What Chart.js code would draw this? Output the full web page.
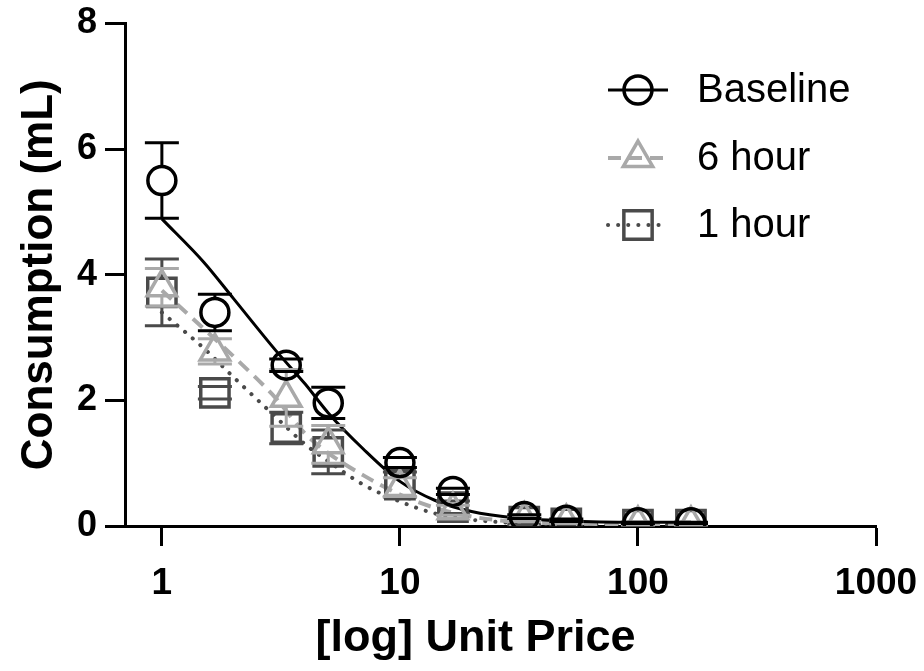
<!DOCTYPE html>
<html>
<head>
<meta charset="utf-8">
<script src="https://cdn.jsdelivr.net/npm/chart.js@4"></script>
<style>
  html, body { margin: 0; padding: 0; background: #fff; }
  #wrap { width: 924px; height: 671px; }
</style>
</head>
<body>
<div id="wrap"><canvas id="demandChart" width="924" height="671"></canvas></div>
<script>
// unit prices tested
const unitPrices = [1, 1.67, 3.33, 5, 10, 16.7, 33.3, 50, 100, 167];

// mean consumption (mL) and SEM for each condition
const baselineMean = [5.5, 3.4, 2.56, 1.96, 1.01, 0.55, 0.15, 0.09, 0.05, 0.05];
const baselineSem = [0.6, 0.29, 0.1, 0.25, 0.08, 0.05, 0.03, 0.02, 0.01, 0.01];
const sixHourMean = [3.8, 2.78, 2.04, 1.3, 0.62, 0.25, 0.1, 0.06, 0.03, 0.03];
const sixHourSem = [0.3, 0.2, 0.45, 0.3, 0.15, 0.08, 0.03, 0.02, 0.01, 0.01];
const oneHourMean = [3.72, 2.12, 1.56, 1.18, 0.66, 0.3, 0.07, 0.04, 0.02, 0.02];
const oneHourSem = [0.53, 0.1, 0.25, 0.35, 0.2, 0.1, 0.05, 0.02, 0.01, 0.01];

// fitted demand curves, sampled along price
const fitPrices = [1, 1.5, 2, 3, 4, 5, 7, 10, 14, 20, 30, 50, 100, 167];
const baselineFit = [4.89, 4.2, 3.62, 2.8, 2.26, 1.8, 1.23, 0.71, 0.41, 0.23, 0.13, 0.08, 0.06, 0.06];
const sixHourFit = [3.75, 3.14, 2.7, 2.04, 1.47, 1.16, 0.81, 0.5, 0.29, 0.15, 0.07, 0.04, 0.03, 0.03];
const oneHourFit = [3.4, 2.83, 2.37, 1.74, 1.3, 1.03, 0.66, 0.39, 0.2, 0.1, 0.05, 0.03, 0.02, 0.02];

const seriesNames = ['Baseline', '6 hour', '1 hour'];
const xTickValues = [1, 10, 100, 1000];
const xTickLabels = ['1', '10', '100', '1000'];
const yTickValues = [0, 2, 4, 6, 8];

const FONT = "'Liberation Sans', Arial, Helvetica, sans-serif";
const NARROW = "'Liberation Sans Narrow', 'Arial Narrow', 'Liberation Sans', sans-serif";

const BLACK = '#000000';
const LIGHT = '#a9a9a9';
const DARK = '#4a4a4a';

const pts = (xs, ys) => xs.map((x, i) => ({ x: x, y: ys[i] }));

// SEM bars drawn with each marker set, stems kept outside the hollow marker
const errorBars = {
  id: 'errorBars',
  afterDatasetDraw(chart, args) {
    const ds = chart.data.datasets[args.index];
    if (!ds.errors) return;
    const ctx = chart.ctx;
    const xs = chart.scales.x;
    const ys = chart.scales.y;
    const cap = 17;
    ctx.save();
    ctx.strokeStyle = ds.borderColor;
    ctx.lineWidth = 3;
    ds.data.forEach((p, i) => {
      const e = ds.errors[i];
      if (!e) return;
      const px = xs.getPixelForValue(p.x);
      const py = ys.getPixelForValue(p.y);
      const top = ys.getPixelForValue(p.y + e);
      const bot = ys.getPixelForValue(Math.max(0, p.y - e));
      ctx.beginPath();
      if (py - ds.gapUp > top) { ctx.moveTo(px, py - ds.gapUp); ctx.lineTo(px, top); }
      if (py + ds.gapDown < bot) { ctx.moveTo(px, py + ds.gapDown); ctx.lineTo(px, bot); }
      ctx.moveTo(px - cap, top); ctx.lineTo(px + cap, top);
      ctx.moveTo(px - cap, bot); ctx.lineTo(px + cap, bot);
      ctx.stroke();
    });
    ctx.restore();
  }
};

// legend in the upper right: line sample with marker, then the label
const sideLegend = {
  id: 'sideLegend',
  afterDraw(chart) {
    const ctx = chart.ctx;
    const rows = [90, 158, 225];
    const x0 = 608, x1 = 668, xm = 638, xt = 697;
    ctx.save();
    for (let i = 0; i < 3; i++) {
      const mk = chart.data.datasets[i];
      const ln = chart.data.datasets[i + 3];
      const y = rows[i];
      ctx.strokeStyle = ln.borderColor;
      ctx.lineWidth = ln.borderWidth;
      ctx.lineCap = ln.borderCapStyle || 'butt';
      ctx.setLineDash(ln.borderDash || []);
      ctx.beginPath();
      ctx.moveTo(x0, y); ctx.lineTo(x1, y);
      ctx.stroke();
      ctx.setLineDash([]);
      ctx.lineCap = 'butt';
      ctx.fillStyle = 'rgba(0,0,0,0)';
      ctx.strokeStyle = mk.borderColor;
      ctx.lineWidth = mk.pointBorderWidth;
      Chart.helpers.drawPoint(ctx, {
        pointStyle: mk.pointStyle, radius: mk.pointRadius, rotation: 0, borderWidth: mk.pointBorderWidth
      }, xm, y);
      ctx.fillStyle = '#000';
      ctx.font = '40px ' + FONT;
      ctx.textBaseline = 'middle';
      ctx.textAlign = 'left';
      ctx.fillText(mk.label, xt, y + 1);
    }
    ctx.restore();
  }
};

function markerSet(label, means, sems, color, style, radius, gapUp, gapDown, order) {
  return {
    label: label,
    data: pts(unitPrices, means),
    errors: sems,
    gapUp: gapUp,
    gapDown: gapDown,
    showLine: false,
    borderColor: color,
    backgroundColor: 'rgba(0,0,0,0)',
    pointStyle: style,
    pointRadius: radius,
    pointBorderWidth: 3.5,
    pointBackgroundColor: 'rgba(0,0,0,0)',
    pointBorderColor: color,
    order: order
  };
}

function fitLine(label, values, color, width, dash, cap) {
  return {
    label: label,
    data: pts(fitPrices, values),
    showLine: true,
    borderColor: color,
    borderWidth: width,
    borderDash: dash,
    borderCapStyle: cap,
    pointRadius: 0,
    cubicInterpolationMode: 'monotone',
    fill: false,
    order: 10
  };
}

const datasets = [
  markerSet(seriesNames[0], baselineMean, baselineSem, BLACK, 'circle', 14, 14, 14, 1),
  markerSet(seriesNames[1], sixHourMean, sixHourSem, LIGHT, 'triangle', 17, 17, 9, 2),
  markerSet(seriesNames[2], oneHourMean, oneHourSem, DARK, 'rect', 20, 14, 14, 3),
  fitLine(seriesNames[0] + ' fit', baselineFit, BLACK, 3, [], 'butt'),
  fitLine(seriesNames[1] + ' fit', sixHourFit, LIGHT, 4, [13, 8], 'butt'),
  fitLine(seriesNames[2] + ' fit', oneHourFit, DARK, 4, [0.1, 10], 'round')
];

new Chart(document.getElementById('demandChart'), {
  type: 'scatter',
  data: { datasets: datasets },
  plugins: [errorBars, sideLegend],
  options: {
    responsive: false,
    animation: false,
    devicePixelRatio: 1,
    layout: { padding: { left: 0, right: 48, top: 23, bottom: 0 } },
    plugins: { legend: { display: false }, tooltip: { enabled: false } },
    scales: {
      x: {
        type: 'logarithmic',
        min: 0.706,
        max: 1000,
        afterBuildTicks: (scale) => { scale.ticks = xTickValues.map(v => ({ value: v })); },
        afterFit: (scale) => { scale.height = 145; scale.paddingLeft = 0; scale.paddingRight = 0; },
        border: { display: true, color: BLACK, width: 3 },
        grid: { drawOnChartArea: false, drawTicks: true, tickLength: 20, tickWidth: 3, tickColor: BLACK, color: BLACK },
        ticks: {
          color: '#000',
          padding: 16,
          maxRotation: 0,
          autoSkip: false,
          font: { family: NARROW, size: 37, weight: 'bold' },
          callback: (v) => { const k = xTickValues.indexOf(v); return k >= 0 ? xTickLabels[k] : ''; }
        },
        title: {
          display: true,
          text: '[log] Unit Price\u00a0\u00a0\u00a0\u00a0',
          color: '#000',
          font: { family: FONT, size: 45, weight: 'bold' },
          padding: { top: 0, bottom: 5 }
        }
      },
      y: {
        min: 0,
        max: 8,
        afterBuildTicks: (scale) => { scale.ticks = yTickValues.map(v => ({ value: v })); },
        afterFit: (scale) => { scale.width = 125; scale.paddingTop = 0; scale.paddingBottom = 0; },
        border: { display: true, color: BLACK, width: 3 },
        grid: { drawOnChartArea: false, drawTicks: true, tickLength: 20, tickWidth: 3, tickColor: BLACK, color: BLACK },
        ticks: {
          color: '#000',
          padding: 8,
          font: { family: FONT, size: 36, weight: 'bold' }
        },
        title: {
          display: true,
          text: 'Consumption (mL)',
          color: '#000',
          font: { family: FONT, size: 44, weight: 'bold' },
          padding: { top: 13, bottom: 0 }
        }
      }
    }
  }
});
</script>
</body>
</html>
